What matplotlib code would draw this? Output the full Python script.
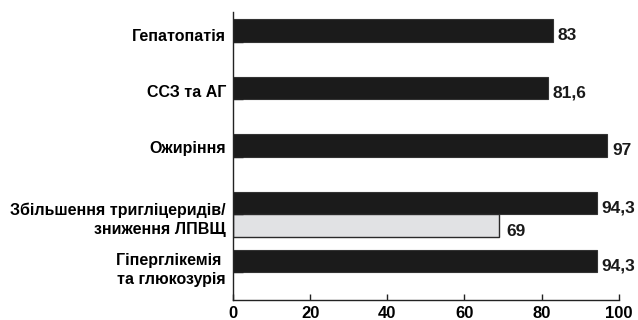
import matplotlib.pyplot as plt

plt.rcParams['font.family'] = ['Liberation Sans', 'DejaVu Sans']

# categories from top to bottom
categories = ['Гепатопатія', 'ССЗ та АГ', 'Ожиріння',
              'Збільшення тригліцеридів/\nзниження ЛПВЩ',
              'Гіперглікемія \nта глюкозурія']
# main (black) series, one per category
black_values = [83, 81.6, 97, 94.3, 94.3]
# extra (grey) bar shown only under the lipid category
grey_values = [69]
grey_index = [3]
ticks_x = [0, 20, 40, 60, 80, 100]

bar_h = 0.39
ypos = list(range(len(categories)))
grey_pos = [ypos[i] + bar_h for i in grey_index]
label_pos = [0.08, 1.06, 2.02, 3.22, 4.09]


def fmt(v):
    # decimal comma for the value labels
    s = f'{v:g}'
    return s.replace('.', ',')


fig = plt.figure(figsize=(6.38, 3.2), dpi=100)
ax = fig.add_axes([0.365, 0.0625, 0.605, 0.9])

ax.barh(ypos, black_values, height=bar_h, color='#1b1b1b',
        edgecolor='#333333', linewidth=0.8)
ax.barh(grey_pos, grey_values, height=bar_h, color='#e1e2e4',
        edgecolor='#2a2a2a', linewidth=1.0)

# value labels just past the bar ends
for y, v in zip(ypos, black_values):
    ax.text(v + 1.2, y + 0.09, fmt(v), va='center', ha='left',
            fontsize=12.5, fontweight='bold', color='#1a1a1a')
for y, v in zip(grey_pos, grey_values):
    ax.text(v + 1.8, y + 0.1, fmt(v), va='center', ha='left',
            fontsize=12.5, fontweight='bold', color='#1a1a1a')

ax.set_xlim(0, 100)
ax.set_ylim(4.68, -0.32)
ax.set_xticks(ticks_x)
ax.set_xticklabels([str(t) for t in ticks_x], fontsize=12, fontweight='bold')
ax.tick_params(axis='x', direction='in', length=4.5, width=1.0,
               color='#222222', pad=4)

# category names as major y ticks, small marks at the bar bottoms
ax.set_yticks(label_pos)
ax.set_yticklabels(categories, fontsize=11.5, fontweight='bold',
                   multialignment='right', linespacing=1.4)
ax.tick_params(axis='y', which='major', length=0, pad=5)
ax.set_yticks([y + bar_h / 2 for y in ypos], minor=True)
ax.tick_params(axis='y', which='minor', direction='in', length=7, width=1.0,
               color='#222222')

for side in ['top', 'right']:
    ax.spines[side].set_visible(False)
for side in ['left', 'bottom']:
    ax.spines[side].set_linewidth(1.0)
    ax.spines[side].set_color('#222222')

fig.savefig('out.png', dpi=100)
